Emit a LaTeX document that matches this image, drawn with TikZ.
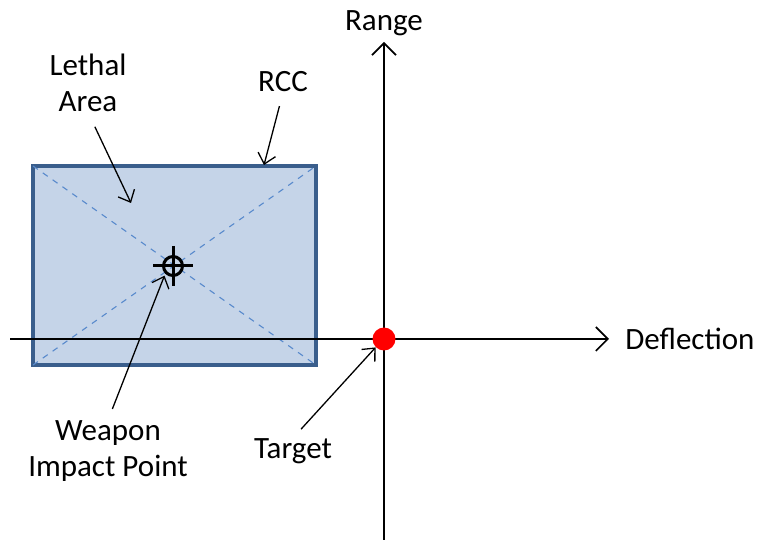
\documentclass[tikz,border=0pt]{standalone}
\usepackage{fontspec}
\setmainfont{Carlito}
\usetikzlibrary{arrows.meta,positioning}
\definecolor{rccfill}{RGB}{197,212,232}
\definecolor{rccline}{RGB}{58,94,140}
\definecolor{diagblue}{RGB}{88,138,204}
\tikzset{
  labeltext/.style={font=\fontsize{15.5}{18}\selectfont, align=center, inner sep=0pt},
  axis/.style={line width=0.8pt, -{Straight Barb[length=6pt,width=12pt]}},
  callout/.style={line width=0.65pt, -{Straight Barb[length=5pt,width=9pt]}},
  crossline/.style={line width=1.5pt},
}
\begin{document}
\begin{tikzpicture}[x=0.5pt,y=-0.5pt]
    \useasboundingbox (0,0) rectangle (757,540);
    % lethal area box
    \node[draw=rccline, line width=2pt, fill=rccfill, outer sep=0pt, inner sep=0pt,
          minimum width=141.5pt, minimum height=99.5pt] (rccbox) at (174.5,265.5) {};
    \draw[diagblue, dashed, line width=0.55pt] (rccbox.north west) -- (rccbox.south east);
    \draw[diagblue, dashed, line width=0.55pt] (rccbox.south west) -- (rccbox.north east);
    % axes
    \coordinate (xstart) at (10,339);
    \coordinate (xend) at (609,339);
    \coordinate (ystart) at (384,540);
    \coordinate (yend) at (384,42);
    \draw[axis] (xstart) -- (xend);
    \draw[axis] (ystart) -- (yend);
    \node[labeltext, right=8pt of xend] (deflection) {Deflection};
    \node[labeltext, above=3pt of yend] (range) {Range};
    % target and impact point
    \node[circle, fill=red, minimum size=11.5pt, inner sep=0pt] (target) at (384,339) {};
    \node[circle, draw, crossline, minimum size=9.5pt, inner sep=0pt] (impact) at (173,266) {};
    \draw[crossline] (impact.center) +(-20,0) -- +(20,0);
    \draw[crossline] (impact.center) +(0,-20) -- +(0,20);
    % labels
    \node[labeltext] (lethal) at (88,83) {Lethal\\Area};
    \node[labeltext] (rcc) at (283,82) {RCC};
    \node[labeltext] (weapon) at (108,451) {Weapon\\Impact Point};
    \node[labeltext] (targettext) at (293,451) {Target};
    \coordinate (lethalpt) at (131,203);
    \coordinate (rccpt) at (264,165);
    \draw[callout, shorten <=8pt] (lethal.south) -- (lethalpt);
    \draw[callout, shorten <=7pt] (rcc.south) -- (rccpt);
    \draw[callout, shorten <=6pt, shorten >=1pt] (weapon.north) -- (impact.south west);
    \draw[callout, shorten <=6pt] (targettext.north) -- (target.south west);
\end{tikzpicture}
\end{document}
